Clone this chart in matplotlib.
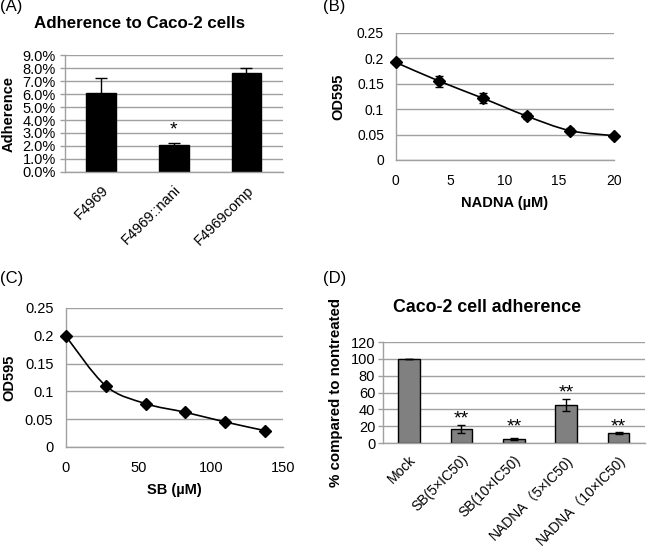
import matplotlib
matplotlib.use("Agg")
import matplotlib.pyplot as plt
from matplotlib.path import Path
from matplotlib.patches import PathPatch
from matplotlib.ticker import FuncFormatter, MultipleLocator

plt.rcParams['font.family'] = ['Liberation Sans', 'Noto Sans CJK JP']

# === data ===
# (A) adherence of strains
strains = ["F4969", "F4969::nani", "F4969comp"]
adherence = [0.061, 0.021, 0.0764]
adherence_err = [0.011, 0.0016, 0.0033]

# (B) NADNA dose response
nadna_conc = [0, 4, 8, 12, 16, 20]
nadna_od = [0.192, 0.155, 0.1215, 0.0866, 0.0577, 0.048]
nadna_err = [0.003, 0.0105, 0.0095, 0.006, 0.005, 0.002]

# (C) SB dose response
sb_conc = [0, 27.5, 55, 82.5, 110, 137.5]
sb_od = [0.199, 0.110, 0.078, 0.0624, 0.045, 0.0294]

# (D) treated adherence
treatments = ["Mock", "SB(5×IC50)", "SB(10×IC50)", "NADNA（5×IC50)", "NADNA（10×IC50)"]
pct_adherence = [100, 16.3, 4.8, 45.5, 11.8]
pct_err = [0, 4.6, 0.7, 7.0, 1.6]
star_marks = ["", "**", "**", "**", "**"]
star_y = [0, 28, 19, 60, 19]

GRID = "#a0a0a0"


def style_axes(ax, ytick_len=0):
    ax.spines[["top", "right"]].set_visible(False)
    for s in ("left", "bottom"):
        ax.spines[s].set_color(GRID)
        ax.spines[s].set_linewidth(1.0)
    ax.set_axisbelow(True)
    ax.yaxis.grid(True, color=GRID, linewidth=1.0)
    ax.tick_params(axis="x", length=0, colors="black")
    ax.tick_params(axis="y", length=ytick_len, width=1, color=GRID, labelcolor="black")


def smooth_line(ax, xs, ys):
    # Excel-like smoothed line: Catmull-Rom segments as cubic Bezier
    n = len(xs)
    verts = [(xs[0], ys[0])]
    codes = [Path.MOVETO]
    for i in range(n - 1):
        x0, y0 = (xs[i - 1], ys[i - 1]) if i > 0 else (xs[i], ys[i])
        x1, y1 = xs[i], ys[i]
        x2, y2 = xs[i + 1], ys[i + 1]
        x3, y3 = (xs[i + 2], ys[i + 2]) if i + 2 < n else (x2, y2)
        c1 = (x1 + (x2 - x0) / 6, y1 + (y2 - y0) / 6)
        c2 = (x2 - (x3 - x1) / 6, y2 - (y3 - y1) / 6)
        verts += [c1, c2, (x2, y2)]
        codes += [Path.CURVE4] * 3
    ax.add_patch(PathPatch(Path(verts, codes), fill=False, edgecolor="black", linewidth=1.2, zorder=3))


fig = plt.figure(figsize=(6.5, 5.53), dpi=100)

# ---- (A) ----
axA = fig.add_axes([0.100, 0.689, 0.335, 0.2115])
style_axes(axA, ytick_len=3.5)
axA.bar(range(len(strains)), adherence, width=0.41, color="black", edgecolor="black",
        yerr=adherence_err, error_kw=dict(ecolor="black", capsize=4, elinewidth=1, capthick=1))
axA.set_xlim(-0.5, len(strains) - 0.5)
axA.set_ylim(0, 0.09)
axA.yaxis.set_major_locator(MultipleLocator(0.01))
axA.yaxis.set_major_formatter(FuncFormatter(lambda v, p: f"{v * 100:.1f}%"))
axA.set_xticks(range(len(strains)))
axA.set_xticklabels(strains, rotation=45, ha="right", va="top", rotation_mode="anchor", fontsize=10.5)
axA.tick_params(axis="y", labelsize=10.5, pad=3)
axA.tick_params(axis="x", pad=8)
axA.set_ylabel("Adherence", fontsize=10.5, fontweight="bold")
axA.yaxis.set_label_coords(-0.225, 0.5)
axA.text(1, 0.0327, "*", ha="center", va="center", fontsize=14)
fig.text(140 / 650, 1 - 23 / 553, "Adherence to Caco-2 cells", ha="center", va="center",
         fontsize=12.2, fontweight="bold")

# ---- (B) ----
axB = fig.add_axes([0.609, 0.7107, 0.335, 0.2297])
style_axes(axB)
smooth_line(axB, nadna_conc, nadna_od)
axB.errorbar(nadna_conc, nadna_od, yerr=nadna_err, fmt="D", color="black", markersize=6,
             capsize=3, elinewidth=1, capthick=1, zorder=4, clip_on=False)
axB.set_xlim(0, 20)
axB.set_ylim(0, 0.25)
axB.xaxis.set_major_locator(MultipleLocator(5))
axB.yaxis.set_major_locator(MultipleLocator(0.05))
axB.yaxis.set_major_formatter(FuncFormatter(lambda v, p: f"{v:g}"))
axB.tick_params(labelsize=10)
axB.tick_params(axis="y", pad=8.5)
axB.tick_params(axis="x", pad=10)
axB.set_xlabel("NADNA (µM)", fontsize=10.5, fontweight="bold", labelpad=6)
axB.set_ylabel("OD595", fontsize=10.5, fontweight="bold")
axB.yaxis.set_label_coords(-0.234, 0.5)

# ---- (C) ----
axC = fig.add_axes([0.1015, 0.1917, 0.334, 0.2514])
style_axes(axC)
smooth_line(axC, sb_conc, sb_od)
axC.plot(sb_conc, sb_od, "D", color="black", markersize=6, zorder=4, clip_on=False)
axC.set_xlim(0, 150)
axC.set_ylim(0, 0.25)
axC.xaxis.set_major_locator(MultipleLocator(50))
axC.yaxis.set_major_locator(MultipleLocator(0.05))
axC.yaxis.set_major_formatter(FuncFormatter(lambda v, p: f"{v:g}"))
axC.tick_params(labelsize=10.5)
axC.tick_params(axis="y", pad=9)
axC.tick_params(axis="x", pad=10)
axC.set_xlabel("SB (µM)", fontsize=10.5, fontweight="bold", labelpad=6)
axC.set_ylabel("OD595", fontsize=10.5, fontweight="bold")
axC.yaxis.set_label_coords(-0.23, 0.5)

# ---- (D) ----
axD = fig.add_axes([0.589, 0.1989, 0.403, 0.1826])
style_axes(axD, ytick_len=3.5)
xd = range(len(treatments))
axD.bar(xd, pct_adherence, width=0.41, color="#808080", edgecolor="black", linewidth=1,
        yerr=pct_err, error_kw=dict(ecolor="black", capsize=3, elinewidth=1, capthick=1))
for i, mark in enumerate(star_marks):
    if mark:
        axD.text(i, star_y[i], mark, ha="center", va="center", fontsize=14)
axD.set_xlim(-0.5, len(treatments) - 0.5)
axD.set_ylim(0, 120)
axD.yaxis.set_major_locator(MultipleLocator(20))
axD.set_xticks(list(xd))
axD.set_xticklabels(treatments, rotation=45, ha="right", va="top", rotation_mode="anchor", fontsize=10)
axD.tick_params(axis="y", labelsize=10.5, pad=2)
axD.tick_params(axis="x", pad=7)
axD.set_ylabel("% compared to nontreated", fontsize=10.8, fontweight="bold")
axD.yaxis.set_label_coords(-0.153, 0.5)
fig.text(487 / 650, 1 - 308 / 553, "Caco-2 cell adherence", ha="center", va="center",
         fontsize=12.8, fontweight="bold")

# panel letters
for lbl, (px, py) in zip(["(A)", "(B)", "(C)", "(D)"], [(0, 7), (323, 7), (0, 279), (323, 279)]):
    fig.text(px / 650, 1 - py / 553, lbl, ha="left", va="center", fontsize=12)

fig.savefig("out.png", dpi=100)
